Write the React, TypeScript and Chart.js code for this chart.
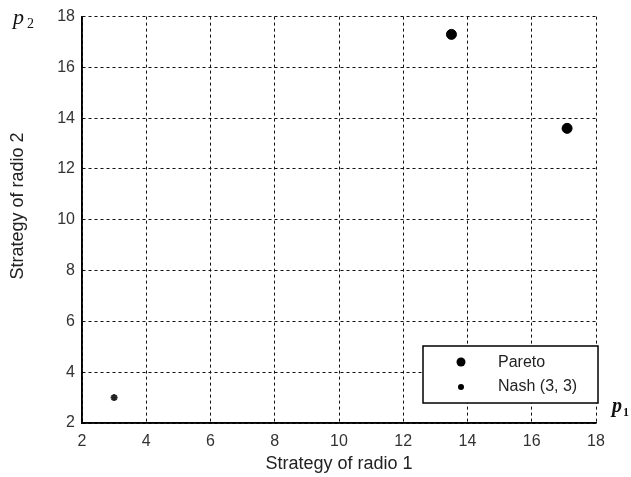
import React, { useEffect, useRef } from "react";
import { Chart, registerables } from "chart.js";
Chart.register(...registerables);

const paretoX = [13.5, 17.1];
const paretoY = [17.3, 13.6];
const nashX = [3];
const nashY = [3];
const legendLabels = ["Pareto", "Nash (3, 3)"];
const xTitle = "Strategy of radio 1";
const yTitle = "Strategy of radio 2";

const FONT = "'Liberation Sans', Arial, sans-serif";

const overlayPlugin = {
  id: "overlay",
  afterDraw(chart: any) {
    const ctx = chart.ctx;
    const ca = chart.chartArea;
    ctx.save();
    // solid left and bottom axes
    ctx.strokeStyle = "#000";
    ctx.lineWidth = 1.5;
    ctx.setLineDash([]);
    ctx.beginPath();
    ctx.moveTo(ca.left, ca.top);
    ctx.lineTo(ca.left, ca.bottom);
    ctx.lineTo(ca.right, ca.bottom);
    ctx.stroke();
    // legend box
    const bw = 175, bh = 57;
    const bx = ca.right - bw + 2, by = ca.bottom - 20 - bh;
    ctx.fillStyle = "#fff";
    ctx.fillRect(bx, by, bw, bh);
    ctx.strokeStyle = "#000";
    ctx.lineWidth = 1.5;
    ctx.strokeRect(bx, by, bw, bh);
    ctx.fillStyle = "#000";
    ctx.beginPath();
    ctx.arc(bx + 38, by + 16, 4.5, 0, Math.PI * 2);
    ctx.fill();
    ctx.beginPath();
    ctx.arc(bx + 38, by + 41, 3, 0, Math.PI * 2);
    ctx.fill();
    ctx.font = `16px ${FONT}`;
    ctx.fillStyle = "#222";
    ctx.textBaseline = "middle";
    ctx.fillText(legendLabels[0], bx + 75, by + 17);
    ctx.fillText(legendLabels[1], bx + 75, by + 41);
    // axis titles
    ctx.font = `18px ${FONT}`;
    ctx.textAlign = "center";
    ctx.fillText(xTitle, (ca.left + ca.right) / 2, 464);
    ctx.save();
    ctx.translate(18, 206);
    ctx.rotate(-Math.PI / 2);
    ctx.fillText(yTitle, 0, 0);
    ctx.restore();
    ctx.textAlign = "left";
    // p labels
    ctx.fillStyle = "#111";
    ctx.textBaseline = "alphabetic";
    ctx.font = `italic 22px 'Liberation Serif', 'Times New Roman', serif`;
    ctx.fillText("p", 13, 24);
    ctx.font = `14px 'Liberation Serif', serif`;
    ctx.fillText("2", 27, 28);
    ctx.font = `italic bold 20px 'Liberation Serif', 'Times New Roman', serif`;
    ctx.fillText("p", 612, 412);
    ctx.font = `bold 12px 'Liberation Serif', serif`;
    ctx.fillText("1", 623, 416);
    ctx.restore();
  },
};

export default function App() {
  const ref = useRef<HTMLCanvasElement | null>(null);
  useEffect(() => {
    if (!ref.current) return;
    const chart = new Chart(ref.current, {
      type: "scatter",
      data: {
        datasets: [
          {
            label: legendLabels[0],
            data: paretoX.map((x, i) => ({ x, y: paretoY[i] })),
            backgroundColor: "#000",
            borderColor: "#000",
            pointRadius: 5,
          },
          {
            label: legendLabels[1],
            data: nashX.map((x, i) => ({ x, y: nashY[i] })),
            backgroundColor: "#222",
            borderColor: "#222",
            pointRadius: 3.5,
            pointStyle: "star",
            borderWidth: 2,
          },
        ],
      },
      options: {
        animation: false,
        responsive: false,
        layout: { padding: { top: 15, right: 35, left: 0, bottom: 0 } },
        plugins: { legend: { display: false }, tooltip: { enabled: false } },
        scales: {
          x: {
            type: "linear",
            min: 2,
            max: 18,
            ticks: { stepSize: 2, color: "#333", font: { family: FONT, size: 16 }, padding: 9 },
            grid: { color: "#111", lineWidth: 1, drawTicks: false },
            border: { display: true, color: "#000", width: 1.5, dash: [3, 3] },
            title: { display: false, text: xTitle },
            afterFit(scale: any) { scale.height = 54; },
          },
          y: {
            type: "linear",
            min: 2,
            max: 18,
            ticks: { stepSize: 2, color: "#333", font: { family: FONT, size: 16 }, padding: 7 },
            grid: { color: "#111", lineWidth: 1, drawTicks: false },
            border: { display: true, color: "#000", width: 1.5, dash: [3, 3] },
            title: { display: false, text: yTitle },
            afterFit(scale: any) { scale.width = 82; },
          },
        },
      },
      plugins: [overlayPlugin],
    } as any);
    return () => chart.destroy();
  }, []);
  return (
    <div style={{ position: "absolute", left: 0, top: 0, width: 631, height: 477, background: "#fff" }}>
      <canvas ref={ref} width={631} height={477} />
    </div>
  );
}
